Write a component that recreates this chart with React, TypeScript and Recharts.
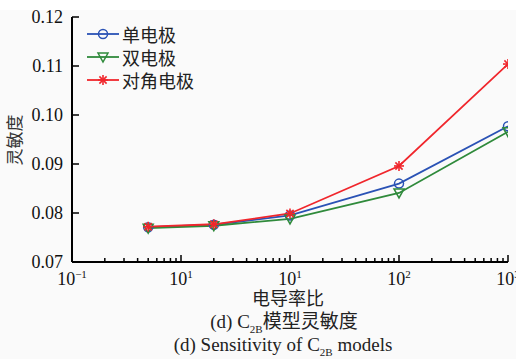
import React from 'react'
import { LineChart, Line, XAxis, YAxis } from 'recharts'

// conductivity ratio (log axis) and sensitivity for each electrode layout
const ratios = [0.5, 2, 10, 100, 1000]
const singleElectrode = [0.0771, 0.0776, 0.0795, 0.0860, 0.0977]
const doubleElectrode = [0.0769, 0.0774, 0.0788, 0.0841, 0.0966]
const diagonalElectrode = [0.0772, 0.0777, 0.0799, 0.0896, 0.1104]

const seriesNames = ['单电极', '双电极', '对角电极']
const majorTicks = [0.1, 1, 10, 100, 1000]
const majorTickLabels = [['10', '−1'], ['10', '1'], ['10', '1'], ['10', '2'], ['10', '3']]
const yTicks = [0.07, 0.08, 0.09, 0.1, 0.11, 0.12]

const BLUE = '#2a52b5'
const GREEN = '#2f8a3b'
const RED = '#f0262c'
const SERIF = '"Liberation Serif", "Times New Roman", serif'
const CJK = '"Noto Sans CJK SC", sans-serif'

const data = ratios.map((r, i) => ({
  ratio: r,
  single: singleElectrode[i],
  double: doubleElectrode[i],
  diagonal: diagonalElectrode[i],
}))

// every decade gets minor ticks at 2..9
const allTicks: number[] = []
for (let d = -1; d < 3; d++) {
  for (let m = 1; m < 10; m++) allTicks.push(m * Math.pow(10, d))
}
allTicks.push(1000)

const PLOT_LEFT = 72

// ticks point into the plot; only decades get a label
function XTick(props: any) {
  const { x, y, payload } = props
  const v = payload.value
  const idx = majorTicks.findIndex(t => Math.abs(t - v) / t < 1e-6)
  const major = idx >= 0
  const len = major ? 7 : 4
  return (
    <g>
      <rect x={x - 0.75} y={y - len} width={1.5} height={len} fill="#000" />
      {major && (
        <text x={x} y={y + 23} textAnchor="middle" fontFamily={SERIF} fontSize={18} fill="#111">
          {majorTickLabels[idx][0]}
          <tspan dy={-7} fontSize={11}>{majorTickLabels[idx][1]}</tspan>
        </text>
      )}
    </g>
  )
}

function YTick(props: any) {
  const { y, payload } = props
  return (
    <g>
      <rect x={PLOT_LEFT} y={y - 0.75} width={7} height={1.5} fill="#000" />
      <text x={PLOT_LEFT - 9} y={y + 6} textAnchor="end" fontFamily={SERIF} fontSize={18} fill="#111">
        {payload.value.toFixed(2)}
      </text>
    </g>
  )
}

const circle = (cx: number, cy: number, color: string) => (
  <circle cx={cx} cy={cy} r={4.5} fill="none" stroke={color} strokeWidth={1.5} />
)
const triangle = (cx: number, cy: number, color: string) => (
  <polygon
    points={`${cx - 5},${cy - 4} ${cx + 5},${cy - 4} ${cx},${cy + 5}`}
    fill="none"
    stroke={color}
    strokeWidth={1.5}
  />
)
const star = (cx: number, cy: number, color: string) => (
  <g stroke={color} strokeWidth={1.6}>
    <line x1={cx - 5} x2={cx + 5} y1={cy} y2={cy} />
    <line x1={cx} x2={cx} y1={cy - 5} y2={cy + 5} />
    <line x1={cx - 3.6} x2={cx + 3.6} y1={cy - 3.6} y2={cy + 3.6} />
    <line x1={cx - 3.6} x2={cx + 3.6} y1={cy + 3.6} y2={cy - 3.6} />
  </g>
)

const markers = [circle, triangle, star]
const colors = [BLUE, GREEN, RED]

function makeDot(i: number) {
  return (p: any) => <g key={`${i}-${p.index}`}>{markers[i](p.cx, p.cy, colors[i])}</g>
}

function LegendBox() {
  return (
    <div style={{ position: 'absolute', left: 87, top: 22, display: 'flex', flexDirection: 'column' }}>
      {seriesNames.map((name, i) => (
        <div key={name} style={{ display: 'flex', alignItems: 'center', height: 23 }}>
          <svg width={32} height={20}>
            <line x1={0} x2={32} y1={10} y2={10} stroke={colors[i]} strokeWidth={1.8} />
            {markers[i](16, 10, colors[i])}
          </svg>
          <span style={{ fontFamily: CJK, fontSize: 18, color: '#222', marginLeft: 3, lineHeight: '20px' }}>{name}</span>
        </div>
      ))}
    </div>
  )
}

export default function App() {
  return (
    <div style={{ position: 'absolute', left: 0, top: 0, width: 516, height: 359, background: '#fff', overflow: 'hidden' }}>
      <div style={{ position: 'absolute', left: 0, top: 10, width: 516, height: 349, background: '#fafafa' }} />
      <div style={{ position: 'absolute', left: 0, top: 0 }}>
        <LineChart width={516} height={300} data={data} margin={{ top: 17, right: 8, left: 0, bottom: 0 }}>
          <XAxis
            dataKey="ratio"
            type="number"
            scale="log"
            domain={[0.1, 1000]}
            ticks={allTicks}
            interval={0}
            tick={<XTick />}
            tickLine={false}
            tickSize={0}
            tickMargin={0}
            height={38}
            axisLine={{ stroke: '#000', strokeWidth: 2 }}
            allowDataOverflow
          />
          <YAxis
            type="number"
            domain={[0.07, 0.12]}
            ticks={yTicks}
            interval={0}
            tick={<YTick />}
            tickLine={false}
            tickSize={0}
            tickMargin={0}
            width={72}
            axisLine={{ stroke: '#000', strokeWidth: 2 }}
          />
          <Line dataKey="single" name={seriesNames[0]} stroke={BLUE} strokeWidth={1.8} dot={makeDot(0)} isAnimationActive={false} />
          <Line dataKey="double" name={seriesNames[1]} stroke={GREEN} strokeWidth={1.8} dot={makeDot(1)} isAnimationActive={false} />
          <Line dataKey="diagonal" name={seriesNames[2]} stroke={RED} strokeWidth={1.8} dot={makeDot(2)} isAnimationActive={false} />
        </LineChart>
      </div>
      <LegendBox />
      <div
        style={{
          position: 'absolute', left: 14, top: 140, transform: 'translate(-50%, -50%) rotate(-90deg)',
          fontFamily: CJK, fontSize: 17, color: '#333', whiteSpace: 'nowrap', lineHeight: '20px',
        }}
      >
        灵敏度
      </div>
      <div style={{ position: 'absolute', left: 0, width: 576, top: 288, textAlign: 'center', fontFamily: CJK, fontSize: 18, color: '#222', lineHeight: '19px' }}>
        电导率比
      </div>
      <div style={{ position: 'absolute', left: 0, width: 568, top: 310, textAlign: 'center', fontSize: 19, color: '#222', whiteSpace: 'nowrap', lineHeight: '20px' }}>
        <span style={{ fontFamily: SERIF }}>(d) C<sub style={{ fontSize: 11, lineHeight: 0 }}>2B</sub></span>
        <span style={{ fontFamily: CJK }}>模型灵敏度</span>
      </div>
      <div style={{ position: 'absolute', left: 0, width: 566, top: 335, textAlign: 'center', fontSize: 19, color: '#222', fontFamily: SERIF, whiteSpace: 'nowrap', lineHeight: '20px' }}>
        (d) Sensitivity of C<sub style={{ fontSize: 11, lineHeight: 0 }}>2B</sub> models
      </div>
    </div>
  )
}
